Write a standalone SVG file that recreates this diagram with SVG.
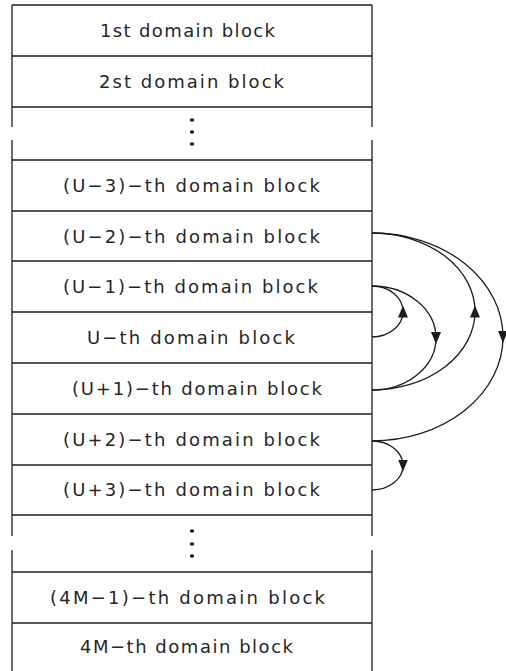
<svg xmlns="http://www.w3.org/2000/svg" width="506" height="671" viewBox="0 0 506 671">
  <style>
    .frame { stroke: #1c1c1c; stroke-width: 1.3; fill: none; }
    .lbl { font-family: "DejaVu Sans", "Liberation Sans", Arial, sans-serif; font-size: 18px; fill: #262626; }
    .dot { fill: #1c1c1c; }
    .arc { stroke: #1c1c1c; stroke-width: 1.3; fill: none; marker-mid: url(#head); }
  </style>
  <defs>
    <marker id="head" markerUnits="userSpaceOnUse" viewBox="0 0 12 10" refX="6" refY="5" markerWidth="12" markerHeight="10" orient="auto">
      <path d="M0,0 L12,5 L0,10 z" fill="#1c1c1c"/>
    </marker>
  </defs>

  <!-- outer side rails, broken where the list is elided -->
  <g id="rails" class="frame">
    <line x1="12" y1="5" x2="12" y2="127"/>
    <line x1="12" y1="140" x2="12" y2="536"/>
    <line x1="12" y1="550" x2="12" y2="671"/>
    <line x1="372" y1="5" x2="372" y2="127"/>
    <line x1="372" y1="140" x2="372" y2="536"/>
    <line x1="372" y1="550" x2="372" y2="671"/>
    <line x1="12" y1="5" x2="372" y2="5"/>
  </g>

  <g id="block-1">
    <line class="frame" x1="12" y1="56" x2="372" y2="56"/>
    <text class="lbl" x="100" y="37" textLength="175" lengthAdjust="spacing">1st domain block</text>
  </g>
  <g id="block-2">
    <line class="frame" x1="12" y1="107" x2="372" y2="107"/>
    <text class="lbl" x="99" y="88" textLength="185" lengthAdjust="spacing">2st domain block</text>
  </g>
  <g id="gap-upper">
    <line class="frame" x1="12" y1="160" x2="372" y2="160"/>
    <ellipse class="dot" cx="192" cy="120" rx="2.2" ry="1.8"/>
    <ellipse class="dot" cx="192" cy="132" rx="2.2" ry="1.8"/>
    <ellipse class="dot" cx="192" cy="144" rx="2.2" ry="1.8"/>
  </g>
  <g id="block-u-3">
    <line class="frame" x1="12" y1="211" x2="372" y2="211"/>
    <text class="lbl" x="63" y="192" textLength="257" lengthAdjust="spacing">(U−3)−th domain block</text>
  </g>
  <g id="block-u-2">
    <line class="frame" x1="12" y1="261" x2="372" y2="261"/>
    <text class="lbl" x="63" y="242.5" textLength="257" lengthAdjust="spacing">(U−2)−th domain block</text>
  </g>
  <g id="block-u-1">
    <line class="frame" x1="12" y1="312" x2="372" y2="312"/>
    <text class="lbl" x="63" y="293" textLength="255" lengthAdjust="spacing">(U−1)−th domain block</text>
  </g>
  <g id="block-u">
    <line class="frame" x1="12" y1="363" x2="372" y2="363"/>
    <text class="lbl" x="87" y="343.5" textLength="208" lengthAdjust="spacing">U−th domain block</text>
  </g>
  <g id="block-u+1">
    <line class="frame" x1="12" y1="414" x2="372" y2="414"/>
    <text class="lbl" x="72" y="394.5" textLength="250" lengthAdjust="spacing">(U+1)−th domain block</text>
  </g>
  <g id="block-u+2">
    <line class="frame" x1="12" y1="465" x2="372" y2="465"/>
    <text class="lbl" x="63" y="445.5" textLength="257" lengthAdjust="spacing">(U+2)−th domain block</text>
  </g>
  <g id="block-u+3">
    <line class="frame" x1="12" y1="515" x2="372" y2="515"/>
    <text class="lbl" x="63" y="496" textLength="257" lengthAdjust="spacing">(U+3)−th domain block</text>
  </g>
  <g id="gap-lower">
    <line class="frame" x1="12" y1="572" x2="372" y2="572"/>
    <ellipse class="dot" cx="192" cy="531" rx="2.2" ry="1.8"/>
    <ellipse class="dot" cx="192" cy="544" rx="2.2" ry="1.8"/>
    <ellipse class="dot" cx="192" cy="556" rx="2.2" ry="1.8"/>
  </g>
  <g id="block-4m-1">
    <line class="frame" x1="12" y1="623" x2="372" y2="623"/>
    <text class="lbl" x="50" y="603.5" textLength="275" lengthAdjust="spacing">(4M−1)−th domain block</text>
  </g>
  <g id="block-4m">
    <text class="lbl" x="80" y="653" textLength="213" lengthAdjust="spacing">4M−th domain block</text>
  </g>

  <!-- reference arcs between blocks, arrowhead at the outermost point -->
  <g id="connectors">
    <path class="arc" d="M372,233 A131,104 0 0 1 503,337 A131,104 0 0 1 372,441"/>
    <path class="arc" d="M372,390 A103,78.5 0 0 0 475,311.5 A103,78.5 0 0 0 372,233"/>
    <path class="arc" d="M372,286 A64,52 0 0 1 436,338 A64,52 0 0 1 372,390"/>
    <path class="arc" d="M372,337 A31,25.5 0 0 0 403,311.5 A31,25.5 0 0 0 372,286"/>
    <path class="arc" d="M372,441 A31,24.5 0 0 1 403,465.5 A31,24.5 0 0 1 372,490"/>
  </g>
</svg>
